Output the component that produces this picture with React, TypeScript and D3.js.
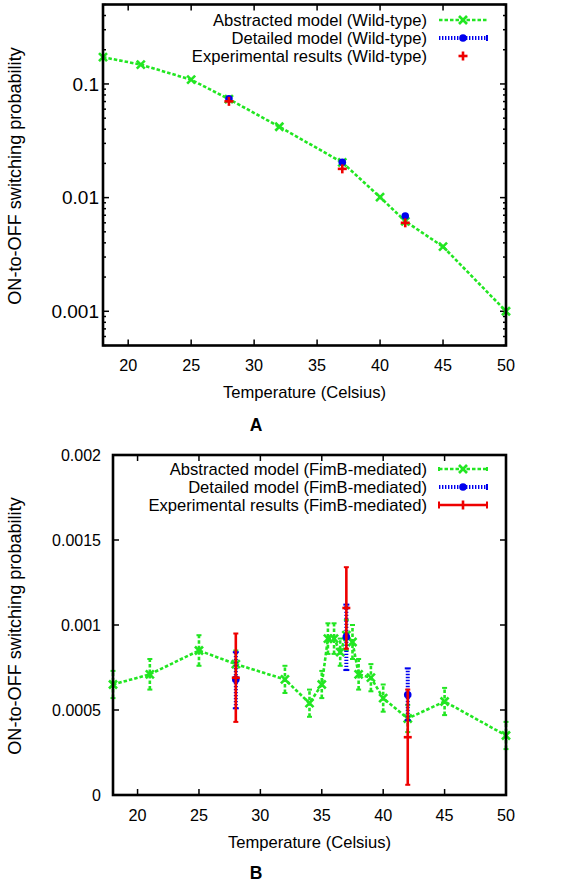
import React from "react";
import * as d3 from "d3";

// ---------- Panel A data (wild-type) ----------
const wtTemps = [18, 21, 25, 28, 32, 37, 40, 42, 45, 50];
const wtAbstract = [0.172, 0.148, 0.109, 0.0735, 0.042, 0.0204, 0.0101, 0.0062, 0.0037, 0.001];
const wtDetailTemps = [28, 37, 42];
const wtDetail = [0.074, 0.0205, 0.0069];
const wtExpTemps = [28, 37, 42];
const wtExp = [0.0703, 0.0179, 0.006];

// ---------- Panel B data (FimB-mediated) ----------
const fimTemps = [18, 21, 25, 28, 32, 34, 35, 35.5, 36, 36.5, 37, 37.5, 38, 39, 40, 42, 45, 50];
const fimAbstract = [0.00065, 0.00071, 0.00085, 0.00077, 0.00068, 0.00054, 0.00065, 0.00092, 0.00092, 0.00084, 0.00094, 0.0009, 0.00071, 0.00069, 0.00057, 0.00045, 0.00055, 0.00035];
const fimAbstractErr = [0.00008, 0.00009, 0.00009, 0.00008, 0.00008, 0.00008, 0.00008, 0.00009, 0.00009, 0.00008, 0.00009, 0.0001, 0.00009, 0.00008, 0.00008, 0.00008, 0.00008, 0.00008];
const fimDetailTemps = [28, 37, 42];
const fimDetail = [0.00068, 0.00093, 0.00059];
const fimDetailLow = [0.00051, 0.000735, 0.00044];
const fimDetailHigh = [0.00084, 0.00112, 0.000745];
const fimExpTemps = [28, 37, 42];
const fimExp = [0.00069, 0.0011, 0.00034];
const fimExpLow = [0.00043, 0.00086, 0.00006];
const fimExpHigh = [0.00095, 0.00134, 0.00062];

// ---------- ticks & labels ----------
const xTicks = [20, 25, 30, 35, 40, 45, 50];
const wtYTicks = [0.001, 0.01, 0.1];
const fimYTicks = [0, 0.0005, 0.001, 0.0015, 0.002];
const wtLegend = ["Abstracted model (Wild-type)", "Detailed model (Wild-type)", "Experimental results (Wild-type)"];
const fimLegend = ["Abstracted model (FimB-mediated)", "Detailed model (FimB-mediated)", "Experimental results (FimB-mediated)"];
const xTitle = "Temperature (Celsius)";
const yTitle = "ON-to-OFF switching probability";

const GREEN = "#22e622";
const BLUE = "#0000ee";
const RED = "#ee0000";
const FONT = "'Liberation Sans', Arial, Helvetica, sans-serif";
const FS = 16.6;
const GDASH = "3.5 2";
const BDASH = "1.4 1.6";

const fmt = d3.format("~g");

function XMark({ x, y, s = 4 }: { x: number; y: number; s?: number }) {
  return (
    <g stroke={GREEN} strokeWidth={2.6}>
      <line x1={x - s} y1={y - s} x2={x + s} y2={y + s} />
      <line x1={x - s} y1={y + s} x2={x + s} y2={y - s} />
    </g>
  );
}
function Plus({ x, y, s = 4.5 }: { x: number; y: number; s?: number }) {
  return (
    <g stroke={RED} strokeWidth={2.6}>
      <line x1={x - s} y1={y} x2={x + s} y2={y} />
      <line x1={x} y1={y - s} x2={x} y2={y + s} />
    </g>
  );
}
function VBar({ x, y1, y2, color, dash, w, cap }: { x: number; y1: number; y2: number; color: string; dash?: string; w: number; cap: number }) {
  return (
    <g stroke={color} strokeWidth={w} strokeDasharray={dash}>
      <line x1={x} y1={y1} x2={x} y2={y2} />
      <line x1={x - cap} y1={y1} x2={x + cap} y2={y1} strokeDasharray="none" strokeWidth={2} />
      <line x1={x - cap} y1={y2} x2={x + cap} y2={y2} strokeDasharray="none" strokeWidth={2} />
    </g>
  );
}

function Legend({ top, labels, errorBars }: { top: number; labels: string[]; errorBars: boolean }) {
  const tx = 427, l0 = 439, l1 = 487, mx = 463, dy = 18;
  return (
    <g>
      {labels.map((t, i) => (
        <text key={i} x={tx} y={top + i * dy} dy="0.35em" textAnchor="end" fontSize={FS} fontFamily={FONT} fill="#000">{t}</text>
      ))}
      <line x1={l0} x2={l1} y1={top} y2={top} stroke={GREEN} strokeWidth={2.6} strokeDasharray={GDASH} />
      {errorBars && (
        <g stroke={GREEN} strokeWidth={2}>
          <line x1={l0} x2={l0} y1={top - 2} y2={top + 2} />
          <line x1={l1} x2={l1} y1={top - 2} y2={top + 2} />
        </g>
      )}
      <XMark x={mx} y={top} />
      <line x1={l0} x2={l1} y1={top + dy} y2={top + dy} stroke={BLUE} strokeWidth={4} strokeDasharray={BDASH} />
      <line x1={l1} x2={l1} y1={top + dy - 3} y2={top + dy + 3} stroke={BLUE} strokeWidth={2} />
      <circle cx={mx} cy={top + dy} r={3.8} fill={BLUE} />
      {errorBars ? (
        <g stroke={RED} strokeWidth={2.6}>
          <line x1={l0} x2={l1} y1={top + 2 * dy} y2={top + 2 * dy} />
          <line x1={l0} x2={l0} y1={top + 2 * dy - 3.5} y2={top + 2 * dy + 3.5} strokeWidth={2} />
          <line x1={l1} x2={l1} y1={top + 2 * dy - 3.5} y2={top + 2 * dy + 3.5} strokeWidth={2} />
          <line x1={mx} x2={mx} y1={top + 2 * dy - 4.5} y2={top + 2 * dy + 4.5} />
        </g>
      ) : (
        <Plus x={mx} y={top + 2 * dy} />
      )}
    </g>
  );
}

function PanelA() {
  const L = 103, R = 506, T = 4.5, B = 345.5;
  const x = d3.scaleLinear().domain([18, 50]).range([L, R]);
  const y = d3.scaleLog().domain([0.0005, 0.5]).range([B, T]);
  const line = d3.line<number>().x((_, i) => x(wtTemps[i])).y((d) => y(d));
  const allY = y.ticks();
  const isMajor = (v: number) => Math.abs(Math.log10(v) - Math.round(Math.log10(v))) < 1e-6;
  return (
    <g>
      <g stroke="#000" strokeWidth={1.5}>
        {allY.map((v, i) => {
          const len = isMajor(v) ? 6 : 3;
          return (
            <g key={i}>
              <line x1={L} x2={L + len} y1={y(v)} y2={y(v)} />
              <line x1={R} x2={R - len} y1={y(v)} y2={y(v)} />
            </g>
          );
        })}
        {xTicks.map((v) => (
          <g key={v}>
            <line x1={x(v)} x2={x(v)} y1={B} y2={B - 6} />
            <line x1={x(v)} x2={x(v)} y1={T} y2={T + 6} />
          </g>
        ))}
      </g>
      {wtYTicks.map((v) => (
        <text key={v} x={L - 4} y={y(v)} dy="0.35em" textAnchor="end" fontSize={19} fontFamily={FONT}>{fmt(v)}</text>
      ))}
      {xTicks.map((v) => (
        <text key={v} x={x(v)} y={B + 20} dy="0.35em" textAnchor="middle" fontSize={16.2} fontFamily={FONT}>{v}</text>
      ))}
      <text x={(L + R) / 2} y={392} dy="0.35em" textAnchor="middle" fontSize={FS} fontFamily={FONT}>{xTitle}</text>
      <text transform={`translate(15,176) rotate(-90)`} dy="0.35em" textAnchor="middle" fontSize={18.1} fontFamily={FONT}>{yTitle}</text>
      <text x={256} y={425} dy="0.35em" textAnchor="middle" fontSize={17.5} fontWeight="bold" fontFamily={FONT}>A</text>

      <path d={line(wtAbstract) || ""} fill="none" stroke={GREEN} strokeWidth={2.6} strokeDasharray={GDASH} />
      {wtAbstract.map((v, i) => <XMark key={i} x={x(wtTemps[i])} y={y(v)} />)}
      {wtDetail.map((v, i) => <circle key={i} cx={x(wtDetailTemps[i])} cy={y(v)} r={3.8} fill={BLUE} />)}
      {wtExp.map((v, i) => <Plus key={i} x={x(wtExpTemps[i])} y={y(v)} />)}

      <Legend top={20} labels={wtLegend} errorBars={false} />
      <rect x={L} y={T} width={R - L} height={B - T} fill="none" stroke="#000" strokeWidth={2.6} />
    </g>
  );
}

function PanelB() {
  const L = 113, R = 506, T = 455, B = 795;
  const x = d3.scaleLinear().domain([18, 50]).range([L, R]);
  const y = d3.scaleLinear().domain([0, 0.002]).range([B, T]);
  const line = d3.line<number>().x((_, i) => x(fimTemps[i])).y((d) => y(d));
  return (
    <g>
      <g stroke="#000" strokeWidth={1.5}>
        {fimYTicks.map((v) => (
          <g key={v}>
            <line x1={L} x2={L + 6} y1={y(v)} y2={y(v)} />
            <line x1={R} x2={R - 6} y1={y(v)} y2={y(v)} />
          </g>
        ))}
        {xTicks.map((v) => (
          <g key={v}>
            <line x1={x(v)} x2={x(v)} y1={B} y2={B - 6} />
            <line x1={x(v)} x2={x(v)} y1={T} y2={T + 6} />
          </g>
        ))}
      </g>
      {fimYTicks.map((v) => (
        <text key={v} x={L - 12} y={y(v)} dy="0.35em" textAnchor="end" fontSize={16} fontFamily={FONT}>{fmt(v)}</text>
      ))}
      {xTicks.map((v) => (
        <text key={v} x={x(v)} y={B + 20} dy="0.35em" textAnchor="middle" fontSize={16.2} fontFamily={FONT}>{v}</text>
      ))}
      <text x={(L + R) / 2} y={842} dy="0.35em" textAnchor="middle" fontSize={FS} fontFamily={FONT}>{xTitle}</text>
      <text transform={`translate(15,626) rotate(-90)`} dy="0.35em" textAnchor="middle" fontSize={18.1} fontFamily={FONT}>{yTitle}</text>
      <text x={256} y={873} dy="0.35em" textAnchor="middle" fontSize={17.5} fontWeight="bold" fontFamily={FONT}>B</text>

      <path d={line(fimAbstract) || ""} fill="none" stroke={GREEN} strokeWidth={2.6} strokeDasharray={GDASH} />
      {fimAbstract.map((v, i) => (
        <VBar key={"e" + i} x={x(fimTemps[i])} y1={y(v - fimAbstractErr[i])} y2={y(v + fimAbstractErr[i])} color={GREEN} dash={GDASH} w={2.6} cap={2.5} />
      ))}
      {fimAbstract.map((v, i) => <XMark key={i} x={x(fimTemps[i])} y={y(v)} />)}
      {fimDetail.map((v, i) => (
        <VBar key={"b" + i} x={x(fimDetailTemps[i])} y1={y(fimDetailLow[i])} y2={y(fimDetailHigh[i])} color={BLUE} dash={BDASH} w={4} cap={3} />
      ))}
      {fimDetail.map((v, i) => <circle key={i} cx={x(fimDetailTemps[i])} cy={y(v)} r={3.8} fill={BLUE} />)}
      {fimExp.map((v, i) => (
        <g key={"r" + i}>
          <VBar x={x(fimExpTemps[i])} y1={y(fimExpLow[i])} y2={y(fimExpHigh[i])} color={RED} w={2.6} cap={2.5} />
          <line x1={x(fimExpTemps[i]) - 4} x2={x(fimExpTemps[i]) + 4} y1={y(v)} y2={y(v)} stroke={RED} strokeWidth={2.6} />
        </g>
      ))}

      <Legend top={469} labels={fimLegend} errorBars={true} />
      <rect x={L} y={T} width={R - L} height={B - T} fill="none" stroke="#000" strokeWidth={2.6} />
    </g>
  );
}

export default function App() {
  return (
    <svg width={572} height={884} style={{ position: "absolute", left: 0, top: 0, background: "#fff" }}>
      <rect width={572} height={884} fill="#fff" />
      <PanelA />
      <PanelB />
    </svg>
  );
}
